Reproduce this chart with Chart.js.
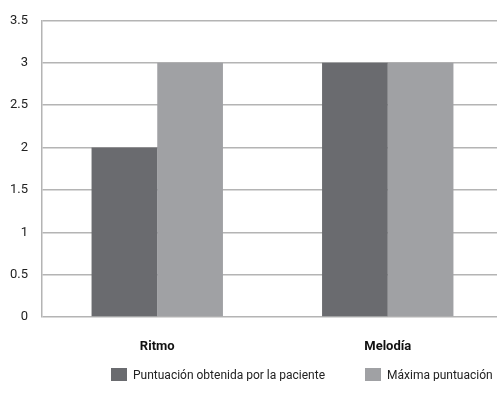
<!DOCTYPE html>
<html>
<head>
<meta charset="utf-8">
<script src="https://cdn.jsdelivr.net/npm/chart.js@4"></script>
<style>
  html, body { margin: 0; padding: 0; background: #fff; overflow: hidden; }
  #wrap { width: 497px; height: 410px; overflow: hidden; }
</style>
</head>
<body>
<div id="wrap"><canvas id="barChart" width="503" height="410"></canvas></div>
<script>
const categories = ["Ritmo", "Melodía"];
const patientScores = [2, 3];
const maxScores = [3, 3];
const seriesNames = ["Puntuación obtenida por la paciente", "Máxima puntuación"];
const yTicks = [0, 0.5, 1, 1.5, 2, 2.5, 3, 3.5];

const fontFamily = "Roboto, 'Liberation Sans', sans-serif";
const gridGray = "#b4b4b4";

// legend: short box so the plot keeps its height, then moved into place
const legendTweak = {
    id: "legendTweak",
    beforeLayout(chart) {
        const lg = chart.legend;
        if (lg && !lg._wrapped) {
            const fit = lg.fit.bind(lg);
            lg.fit = function () { fit(); this.height = 53; };
            lg._wrapped = true;
        }
    },
    afterLayout(chart) {
        const lg = chart.legend;
        if (!lg || !lg.lineWidths) return;
        const pad = lg.options.labels.padding;
        const start = (lg.left + pad + lg.right - lg.lineWidths[0]) / 2;
        const dx = 111 - start;
        lg.left += dx;
        lg.right += dx;
        lg.top -= 29;
        lg.bottom -= 29;
    }
};

let barChart = new Chart(document.getElementById("barChart"), {
    type: "bar",
    data: {
        labels: categories,
        datasets: [
            { label: seriesNames[0], data: patientScores, backgroundColor: "#6a6b6f" },
            { label: seriesNames[1], data: maxScores, backgroundColor: "#a0a1a4" }
        ]
    },
    plugins: [legendTweak],
    options: {
        responsive: false,
        animation: false,
        layout: { padding: { left: 0, right: 0, top: 0, bottom: 0 } },
        datasets: { bar: { categoryPercentage: 0.57, barPercentage: 1.0 } },
        plugins: {
            tooltip: { enabled: false },
            legend: {
                position: "bottom",
                labels: {
                    boxWidth: 16,
                    boxHeight: 16,
                    padding: 40,
                    color: "#222",
                    font: { family: fontFamily, size: 12 }
                }
            }
        },
        scales: {
            x: {
                grid: { display: false, drawTicks: false },
                border: { display: false },
                ticks: { color: "#111", padding: 22, font: { family: fontFamily, size: 13, weight: "bold" } },
                afterFit: s => { s.height = 40; }
            },
            y: {
                min: yTicks[0],
                max: yTicks[yTicks.length - 1],
                afterBuildTicks: s => { s.ticks = yTicks.map(v => ({ value: v })); },
                ticks: {
                    color: "#222",
                    padding: 14,
                    font: { family: fontFamily, size: 13, lineHeight: 1 },
                    callback: v => String(v)
                },
                grid: { color: gridGray, lineWidth: 1.5, drawTicks: false },
                border: { display: true, color: gridGray, width: 1.5 },
                afterFit: s => { s.width = 42; }
            }
        }
    }
});
</script>
</body>
</html>
